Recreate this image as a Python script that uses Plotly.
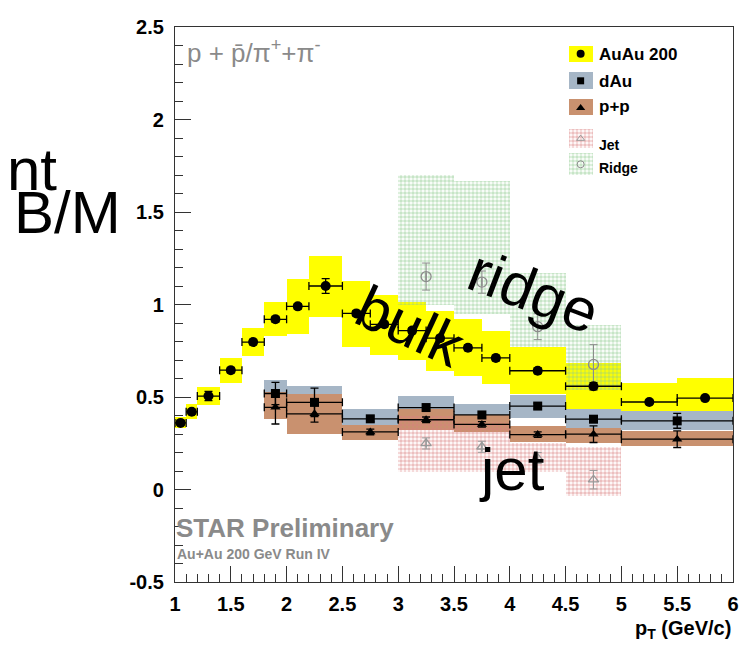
import plotly.graph_objects as go

# ---------------- data ----------------
# Au+Au 200 GeV (filled circles, yellow systematic boxes)
au_x = [1.05, 1.15, 1.3, 1.5, 1.7, 1.9, 2.1, 2.35, 2.625, 2.875, 3.125, 3.375, 3.625, 3.875, 4.25, 4.75, 5.25, 5.75]
au_hw = [0.05, 0.05, 0.1, 0.1, 0.1, 0.1, 0.1, 0.15, 0.125, 0.125, 0.125, 0.125, 0.125, 0.125, 0.25, 0.25, 0.25, 0.25]
au_y = [0.36, 0.42, 0.505, 0.645, 0.797, 0.92, 0.99, 1.10, 0.952, 0.893, 0.859, 0.818, 0.766, 0.711, 0.642, 0.558, 0.473, 0.494]
au_stat = [0.012, 0.012, 0.025, 0.015, 0.015, 0.015, 0.015, 0.04, 0.015, 0.015, 0.015, 0.015, 0.015, 0.015, 0.015, 0.02, 0.01, 0.01]
au_sys_lo = [0.33, 0.38, 0.457, 0.578, 0.72, 0.828, 0.841, 0.934, 0.770, 0.729, 0.702, 0.640, 0.614, 0.569, 0.516, 0.436, 0.427, 0.427]
au_sys_hi = [0.39, 0.46, 0.553, 0.712, 0.875, 1.012, 1.137, 1.263, 1.129, 1.049, 1.014, 0.966, 0.920, 0.859, 0.770, 0.685, 0.578, 0.601]

# d+Au (filled squares, grey-blue boxes)
da_x = [1.9, 2.25, 2.75, 3.25, 3.75, 4.25, 4.75, 5.5]
da_hw = [0.1, 0.25, 0.25, 0.25, 0.25, 0.25, 0.25, 0.5]
da_y = [0.519, 0.471, 0.382, 0.443, 0.403, 0.451, 0.380, 0.371]
da_stat = [0.06, 0.077, 0.015, 0.015, 0.015, 0.015, 0.015, 0.04]
da_sys_lo = [0.45, 0.385, 0.328, 0.379, 0.349, 0.386, 0.33, 0.32]
da_sys_hi = [0.59, 0.557, 0.436, 0.507, 0.46, 0.51, 0.436, 0.427]

# p+p (filled triangles, brown boxes)
pp_x = [1.9, 2.25, 2.75, 3.25, 3.75, 4.25, 4.75, 5.5]
pp_hw = [0.1, 0.25, 0.25, 0.25, 0.25, 0.25, 0.25, 0.5]
pp_y = [0.444, 0.409, 0.311, 0.377, 0.352, 0.297, 0.299, 0.272]
pp_stat = [0.09, 0.045, 0.015, 0.015, 0.015, 0.015, 0.045, 0.045]
pp_sys_lo = [0.38, 0.302, 0.267, 0.32, 0.31, 0.258, 0.25, 0.236]
pp_sys_hi = [0.525, 0.516, 0.347, 0.436, 0.405, 0.343, 0.33, 0.315]

# Jet (open triangles, pink hatched boxes)
jet_x = [3.25, 3.75, 4.25, 4.75]
jet_hw = [0.25, 0.25, 0.25, 0.25]
jet_y = [0.249, 0.231, 0.17, 0.053]
jet_stat = [0.03, 0.03, 0.03, 0.05]
jet_sys_lo = [0.097, 0.097, 0.097, -0.036]
jet_sys_hi = [0.40, 0.365, 0.25, 0.231]

# Ridge (open circles, green hatched boxes)
rid_x = [3.25, 3.75, 4.25, 4.75]
rid_hw = [0.25, 0.25, 0.25, 0.25]
rid_y = [1.151, 1.121, 0.88, 0.676]
rid_stat = [0.073, 0.06, 0.07, 0.107]
rid_sys_lo = [1.0, 0.95, 0.77, 0.54]
rid_sys_hi = [1.70, 1.667, 1.169, 0.89]

legend_labels = ["AuAu 200", "dAu", "p+p", "Jet", "Ridge"]

x_tickvals = [1, 1.5, 2, 2.5, 3, 3.5, 4, 4.5, 5, 5.5, 6]
x_ticktext = ["1", "1.5", "2", "2.5", "3", "3.5", "4", "4.5", "5", "5.5", "6"]
y_tickvals = [-0.5, 0, 0.5, 1, 1.5, 2, 2.5]
y_ticktext = ["-0.5", "0", "0.5", "1", "1.5", "2", "2.5"]

# ---------------- style ----------------
FONT = "Liberation Sans, Arial, Helvetica, sans-serif"
YELLOW = "#ffff00"
GREY = "#a6b6c6"
BROWN = "#c9916f"
JET_DOT = "#d98080"
RIDGE_DOT = "#90cc90"
TEXT_GREY = "#8a8a8a"
OFF = 8                      # page body margin in the browser
W, H = 747 - OFF, 650 - OFF  # figure size so that the page fits the window
ML, MR, MT, MB = 175 - OFF, 8, 20 - OFF, 68
PW, PH = W - ML - MR, H - MT - MB

fig = go.Figure()


def boxes(x, hw, lo, hi, color, pattern=None, xa="x", ya="y"):
    return go.Bar(
        x=x, base=lo, y=[h - l for h, l in zip(hi, lo)], width=[2 * w for w in hw],
        marker=dict(color=color, line=dict(width=0), pattern=pattern),
        xaxis=xa, yaxis=ya, showlegend=False, hoverinfo="skip",
    )


def dots(col):
    return dict(shape=".", fgcolor=col, bgcolor="rgba(0,0,0,0)", size=4,
                solidity=0.65, fillmode="overlay")


def points(x, y, hw, stat, symbol, size, color, lw=1.3):
    return go.Scatter(
        x=x, y=y, mode="markers",
        marker=dict(symbol=symbol, size=size, color=color,
                    line=dict(width=1.3 if "open" in symbol else 0, color=color)),
        error_x=dict(type="data", array=hw, color=color, thickness=lw, width=4),
        error_y=dict(type="data", array=stat, color=color, thickness=lw, width=4),
        showlegend=False, hoverinfo="skip",
    )


# systematic boxes (drawing order matters)
fig.add_trace(boxes(au_x, au_hw, au_sys_lo, au_sys_hi, YELLOW))
fig.add_trace(boxes(da_x, da_hw, da_sys_lo, da_sys_hi, GREY))
fig.add_trace(boxes(pp_x, pp_hw, pp_sys_lo, pp_sys_hi, BROWN))
fig.add_trace(boxes(jet_x, jet_hw, jet_sys_lo, jet_sys_hi, "rgba(0,0,0,0)", dots(JET_DOT)))
fig.add_trace(boxes(rid_x, rid_hw, rid_sys_lo, rid_sys_hi, "rgba(0,0,0,0)", dots(RIDGE_DOT)))

# data points
fig.add_trace(points(jet_x, jet_y, [0] * len(jet_x), jet_stat, "triangle-up-open", 9, "#9a9a9a", 1))
fig.add_trace(points(rid_x, rid_y, [0] * len(rid_x), rid_stat, "circle-open", 10, "#8c8c8c", 1))
fig.add_trace(points(da_x, da_y, da_hw, da_stat, "square", 9, "black"))
fig.add_trace(points(pp_x, pp_y, pp_hw, pp_stat, "triangle-up", 9, "black"))
fig.add_trace(points(au_x, au_y, au_hw, au_stat, "circle", 10, "black"))

# ---------------- manual legend (pixel overlay axes, screen pixels) ----------------
leg_box_x = 585
leg_box_w = 24
leg_rows = [47, 74.5, 101, 133, 159]
leg_box_h = [16, 17, 16, 20, 22]
leg_fill = [YELLOW, GREY, BROWN, "white", "white"]
leg_pat = [None, None, None, dots(JET_DOT), dots(RIDGE_DOT)]
for i in range(5):
    fig.add_trace(boxes([leg_box_x], [leg_box_w / 2], [leg_rows[i] - leg_box_h[i] / 2],
                        [leg_rows[i] + leg_box_h[i] / 2], leg_fill[i], leg_pat[i], "x2", "y2"))
leg_sym = ["circle", "square", "triangle-up", "triangle-up-open", "circle-open"]
leg_size = [8, 7, 8, 7, 7]
leg_col = ["black", "black", "black", "#9a9a9a", "#8c8c8c"]
for i in range(5):
    fig.add_trace(go.Scatter(x=[leg_box_x], y=[leg_rows[i] + (1 if i == 2 else 0)], mode="markers",
                             marker=dict(symbol=leg_sym[i], size=leg_size[i], color=leg_col[i],
                                         line=dict(width=1 if "open" in leg_sym[i] else 0, color=leg_col[i])),
                             xaxis="x2", yaxis="y2", showlegend=False, hoverinfo="skip"))


# ---------------- text (screen-pixel positions converted to paper) ----------------
def txt(px, py, s, size, color="black", xanchor="left", angle=0):
    fx, fy = px - OFF, py - OFF
    fig.add_annotation(x=(fx - ML) / PW, y=(H - MB - fy) / PH, xref="paper", yref="paper",
                       text=s, showarrow=False, xanchor=xanchor, yanchor="middle",
                       textangle=angle, font=dict(family=FONT, size=size, color=color))


leg_font = [17, 17, 17, 14, 14]
leg_ty = [48, 75, 100, 139, 163]
for i in range(5):
    txt(602, leg_ty[i], "<b>%s</b>" % legend_labels[i], leg_font[i])

txt(185, 45, "p + p̄/π<sup>+</sup>+π<sup>-</sup>", 26, TEXT_GREY)
txt(174, 527, "<b>STAR Preliminary</b>", 26, TEXT_GREY)
txt(175, 554, "<b>Au+Au 200 GeV Run IV</b>", 14, TEXT_GREY)
txt(58, 164, "nt", 60, "black", xanchor="right")
txt(10, 208, "B/M", 60, "black")
txt(413, 323, "bulk", 60, "black", xanchor="center", angle=25)
txt(537, 288, "ridge", 60, "black", xanchor="center", angle=21)
txt(516, 468, "jet", 60, "black", xanchor="center")
txt(739, 630, "<b>p<sub>T</sub> (GeV/c)</b>", 20, "black", xanchor="right")

axis_common = dict(
    showgrid=False, zeroline=False, showline=True, mirror=True,
    linecolor="#333", linewidth=1.2,
    ticks="inside", ticklen=16, tickwidth=1, tickcolor="#333",
    tickfont=dict(family=FONT, size=20, color="black", weight="bold"),
    minor=dict(ticks="inside", ticklen=8, dtick=0.1, tickcolor="#333", tickwidth=1),
    fixedrange=True, ticklabeloverflow="allow",
)

# overlay axes expressed in screen pixels (used only for the legend swatches)
fig.update_layout(
    width=W, height=H,
    margin=dict(l=ML, r=MR, t=MT, b=MB),
    paper_bgcolor="white", plot_bgcolor="white",
    barmode="overlay", bargap=0,
    showlegend=False,
    xaxis=dict(range=[1, 6], tickvals=x_tickvals, ticktext=x_ticktext, ticklabelstandoff=4, **axis_common),
    yaxis=dict(range=[-0.5, 2.5], tickvals=y_tickvals, ticktext=y_ticktext, ticklabelstandoff=6, **axis_common),
    xaxis2=dict(range=[ML + OFF, W - MR + OFF], overlaying="x", anchor="y2", visible=False, fixedrange=True),
    yaxis2=dict(range=[H - MB + OFF, MT + OFF], overlaying="y", anchor="x2", visible=False, fixedrange=True),
)

fig.write_html("out.html")
